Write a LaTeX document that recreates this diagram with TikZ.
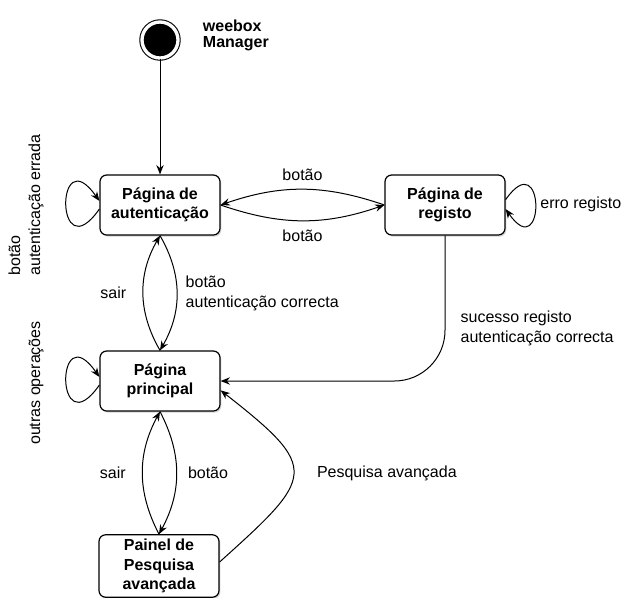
\documentclass[tikz,border=0pt]{standalone}
\usepackage{fontspec}
\setmainfont{Liberation Sans}
\usetikzlibrary{arrows.meta,shadows}

\begin{document}
\begin{tikzpicture}[x=0.75pt, y=-0.75pt, font=\fontsize{12}{15}\selectfont,
  state/.style = {draw, line width=0.9pt, rounded corners=5pt, fill=white, align=center,
    minimum width=90pt, minimum height=45pt, font=\fontsize{12}{14.5}\selectfont\bfseries,
    drop shadow={opacity=0.35, shadow xshift=1pt, shadow yshift=-1.2pt}},
  initial/.style = {circle, draw=black, fill=black, line width=0.8pt, double=white,
    double distance=2.5pt, minimum size=27pt,
    drop shadow={opacity=0.35, shadow xshift=1pt, shadow yshift=-1.2pt}},
  every path/.style = {line width=0.75pt},
  >={Stealth[length=7pt, width=5.5pt]}]
\useasboundingbox (0,0) rectangle (628,597);

\node[initial] (start) at (160,40) {};
\node[anchor=west, align=left, font=\fontsize{12}{12}\selectfont\bfseries] (startname) at (198,35) {weebox\\Manager};

\node[state] (auth) at (160,205) {Página de\\autenticação};
\node[state] (registo) at (445,205) {Página de\\registo};
\node[state] (principal) at (160,381) {Página\\principal};
\node[state] (painel) at (159,566) {Painel de\\Pesquisa\\avançada};

% loop labels
\node[rotate=90, align=left] (errada) at (26,205) {botão\\autenticação errada};
\node[rotate=90] (outras) at (36,383) {outras operações};

\draw[->] (start) -- (auth);

% autenticacao <-> registo
\draw[->] (registo.west) to[bend right=19] node[above=3pt] {botão} (auth.east);
\draw[->] (auth.east) to[bend right=19] node[below=3pt] {botão} (registo.west);

% autenticacao <-> principal
\draw[->] (principal.north) to[bend left=30] node[left=9pt] {sair} (auth.south);
\draw[->] (auth.south) to[bend left=30] node[right=3pt, align=left] {botão\\autenticação correcta} (principal.north);

% principal <-> painel
\draw[->] (painel.north) to[bend left=28] node[left=9pt] {sair} (principal.south);
\draw[->] (principal.south) to[bend left=28] node[right=5pt] {botão} (painel.north);

% self loops
\draw[->] ([yshift=-3pt]auth.west) to[out=235, in=125, distance=58pt] ([yshift=3pt]auth.west);
\draw[->] ([yshift=-3pt]principal.west) to[out=235, in=125, distance=58pt] ([yshift=3pt]principal.west);
\draw[->] ([yshift=4pt]registo.east) to[out=55, in=-55, distance=52pt] node[right=0pt] {erro registo} ([yshift=-3pt]registo.east);

\draw[->, rounded corners=38pt] (registo) |- node[pos=0.32, right=8pt, align=left] {sucesso registo\\autenticação correcta} (principal);
\draw[->] ([yshift=3pt]painel.east) to[out=42, in=-38, looseness=1.9] node[right=14pt] {Pesquisa avançada} ([yshift=-7pt]principal.east);

\end{tikzpicture}
\end{document}
